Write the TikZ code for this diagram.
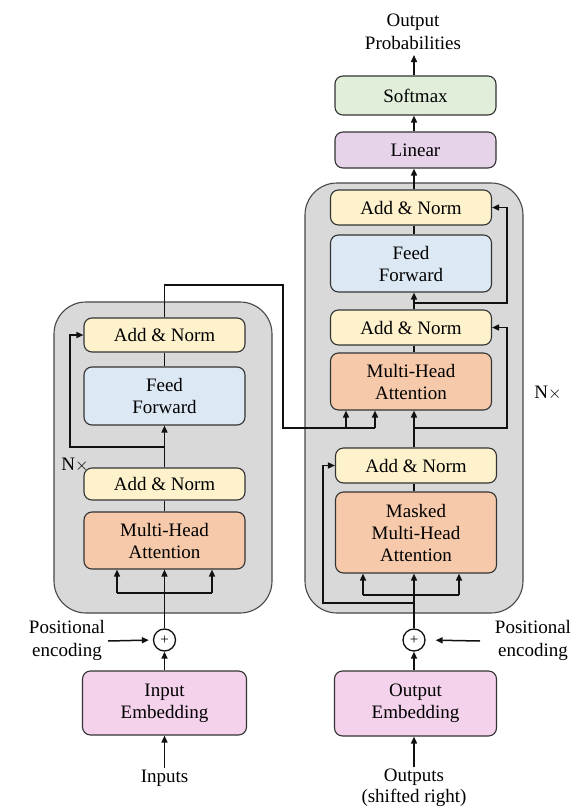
\documentclass[tikz,border=0pt]{standalone}
\usepackage{fontspec}
\setmainfont{Liberation Serif}
\usetikzlibrary{arrows.meta}
\definecolor{blockgray}{HTML}{D9D9D9}
\definecolor{addnorm}{HTML}{FEF2CD}
\definecolor{ffblue}{HTML}{DDE8F5}
\definecolor{mhaorange}{HTML}{F5C9AA}
\definecolor{embpink}{HTML}{F4D2EC}
\definecolor{linpurple}{HTML}{E6D2E9}
\definecolor{smgreen}{HTML}{E1EEDA}
\definecolor{edge}{HTML}{333333}
\definecolor{wire}{HTML}{111111}
\begin{document}
\begin{tikzpicture}[x=1pt,y=-1pt,
  font=\fontsize{19}{22}\selectfont,
  box/.style={draw=edge, line width=1.1pt, rounded corners=8pt, inner sep=0pt, align=center, minimum width=161pt},
  block/.style={draw=edge!90, line width=1.1pt, fill=blockgray, rounded corners=32pt, inner sep=0pt},
  wireline/.style={draw=wire, line width=1.5pt},
  arr/.style={wireline, -{Triangle[length=7pt,width=6pt]}},
  txt/.style={align=center, inner sep=0pt}]
\useasboundingbox (0,0) rectangle (574,809);

% gray blocks
\node[block, minimum width=218pt, minimum height=311pt] (enc) at (163,457.5) {};
\node[block, minimum width=218pt, minimum height=430pt] (dec) at (414,398) {};

% encoder boxes
\node[box, fill=addnorm, minimum height=34pt] (eAN2) at (164.5,335) {Add \& Norm};
\node[box, fill=ffblue, minimum height=58pt] (eFF) at (164.5,396) {Feed\\Forward};
\node[box, fill=addnorm, minimum height=32pt] (eAN1) at (164.5,484) {Add \& Norm};
\node[box, fill=mhaorange, minimum height=57pt] (eMHA) at (164.5,540.5) {Multi-Head\\Attention};

% decoder boxes
\node[box, fill=addnorm, minimum height=35pt] (dAN3) at (411,207.5) {Add \& Norm};
\node[box, fill=ffblue, minimum height=57pt] (dFF) at (411,263.5) {Feed\\Forward};
\node[box, fill=addnorm, minimum height=35pt] (dAN2) at (411,327.5) {Add \& Norm};
\node[box, fill=mhaorange, minimum height=57pt] (dMHA) at (411,381.5) {Multi-Head\\Attention};
\node[box, fill=addnorm, minimum height=35pt] (dAN1) at (416,465.5) {Add \& Norm};
\node[box, fill=mhaorange, minimum height=81pt] (dMMHA) at (416,532.5) {Masked\\Multi-Head\\Attention};

% head boxes
\node[box, fill=linpurple, minimum height=36pt] (lin) at (415.5,150) {Linear};
\node[box, fill=smgreen, minimum height=39pt] (sm) at (415.5,95.5) {Softmax};
\node[txt, font=\fontsize{19}{23}\selectfont] (prob) at (413,31.5) {Output\\Probabilities};

% embeddings
\node[box, fill=embpink, minimum width=164pt, minimum height=64pt] (inemb) at (164.5,703) {Input\\Embedding};
\node[box, fill=embpink, minimum width=162pt, minimum height=65pt] (outemb) at (415.5,703.5) {Output\\Embedding};
\node[draw=wire, fill=white, line width=1.3pt, circle, minimum size=22pt, inner sep=0pt, font=\fontsize{15}{15}\selectfont] (cL) at (164.5,640) {+};
\node[draw=wire, fill=white, line width=1.3pt, circle, minimum size=22pt, inner sep=0pt, font=\fontsize{15}{15}\selectfont] (cR) at (414,640) {+};

% texts
\node[txt, font=\fontsize{19}{23}\selectfont] (posL) at (67,640.5) {Positional\\encoding};
\node[txt, font=\fontsize{19}{23}\selectfont] (posR) at (533,640.5) {Positional\\encoding};
\node[txt] (inputs) at (164.5,778) {Inputs};
\node[txt, font=\fontsize{19}{21}\selectfont] (outputs) at (414,788) {Outputs\\(shifted right)};
\node[txt] (nL) at (75,465) {N$\times$};
\node[txt] (nR) at (548,393) {N$\times$};

% coordinates
\coordinate (colD) at (414,0);
\coordinate (posLa) at (108,641);
\coordinate (posRa) at (480,641);
\coordinate (inA) at (164.5,768);
\coordinate (outA) at (414,767);
\coordinate (probA) at (414,55);

% bottom flow
\draw[arr] (inA) -- (inemb.south);
\draw[arr] (outA) -- (outA |- outemb.south);
\draw[arr] (inemb.north) -- (cL.south);
\draw[arr] (cR.south |- outemb.north) -- (cR.south);
\draw[arr, shorten >=4pt] (posLa) -- (cL.west);
\draw[arr, shorten >=10pt] (posRa) -- (cR.east);

% encoder flow
\coordinate (eh1) at (117,593);
\coordinate (eh2) at (212,593);
\draw[arr] (cL.north) -- (eMHA.south);
\draw[wireline] (eh1) -- (eh2);
\draw[arr] (eh1) -- (eh1 |- eMHA.south);
\draw[arr] (eh2) -- (eh2 |- eMHA.south);
\draw[wireline] (eMHA.north) -- (eAN1.south);
\draw[arr] (eAN1.north) -- (eFF.south);
\coordinate (eR1) at (164.5,447);
\coordinate (eR2) at (70,447);
\draw[arr] (eR1) -- (eR2) |- (eAN2.west);
\draw[wireline] (eFF.north) -- (eAN2.south);

% encoder to decoder
\coordinate (eo1) at (164.5,285);
\coordinate (eo2) at (283,285);
\coordinate (eo3) at (283,428);
\coordinate (eo4) at (375,428);
\coordinate (eb) at (346,428);
\draw[wireline] (eAN2.north) -- (eo1) -- (eo2) -- (eo3) -- (eo4);
\draw[arr] (eo4) -- (eo4 |- dMHA.south);
\draw[arr] (eb) -- (eb |- dMHA.south);

% decoder flow
\coordinate (dh1) at (363,595);
\coordinate (dh2) at (459,595);
\draw[arr] (cR.north) -- (cR.north |- dMMHA.south);
\draw[wireline] (dh1) -- (dh2);
\draw[arr] (dh1) -- (dh1 |- dMMHA.south);
\draw[arr] (dh2) -- (dh2 |- dMMHA.south);
\coordinate (dR1a) at (414,603);
\coordinate (dR1b) at (323,603);
\draw[arr] (dR1a) -- (dR1b) |- (dAN1.west);
\draw[wireline] (dMMHA.north -| colD) -- (dAN1.south -| colD);
\draw[arr] (dAN1.north -| colD) -- (dMHA.south -| colD);
\coordinate (dR2a) at (414,428);
\coordinate (dR2b) at (507,428);
\draw[arr] (dR2a) -- (dR2b) |- (dAN2.east);
\draw[wireline] (dMHA.north -| colD) -- (dAN2.south -| colD);
\draw[arr] (dAN2.north -| colD) -- (dFF.south -| colD);
\coordinate (dR3a) at (414,303);
\coordinate (dR3b) at (507,303);
\draw[arr] (dR3a) -- (dR3b) |- (dAN3.east);
\draw[wireline] (dFF.north -| colD) -- (dAN3.south -| colD);
\draw[arr] (dAN3.north -| colD) -- (lin.south -| colD);
\draw[arr] (lin.north -| colD) -- (sm.south -| colD);
\draw[arr] (sm.north -| colD) -- (probA);
\end{tikzpicture}
\end{document}
